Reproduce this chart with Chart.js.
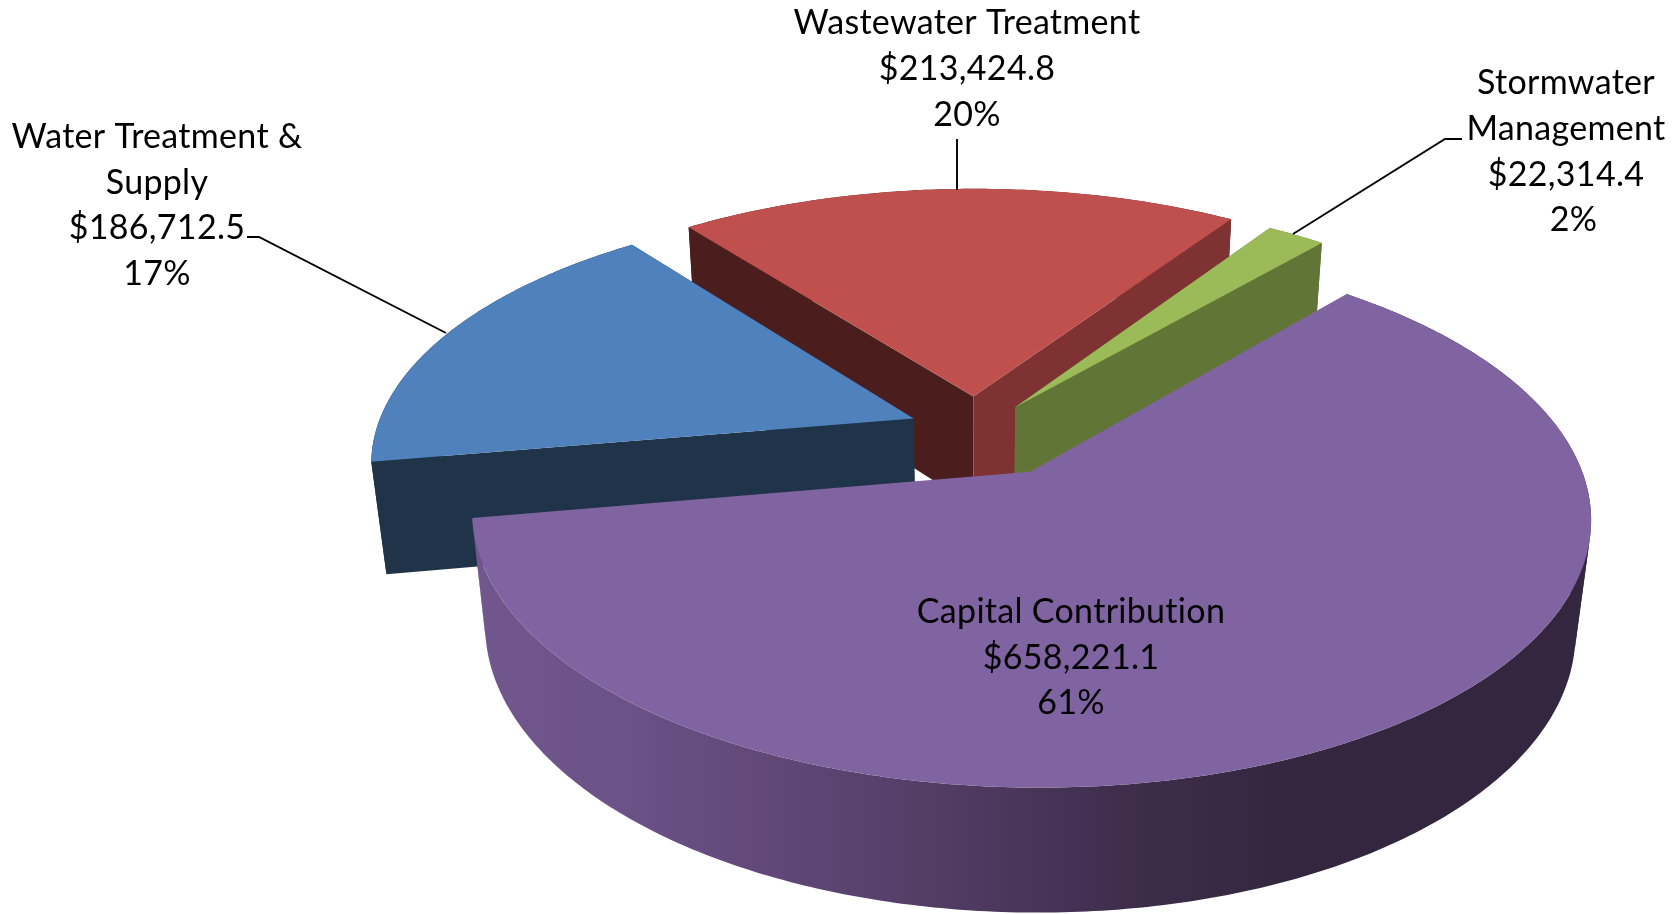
<!DOCTYPE html>
<html>
<head>
<meta charset="utf-8">
<style>html,body{margin:0;padding:0;background:#fff}canvas{display:block}</style>
<script src="https://cdn.jsdelivr.net/npm/chart.js@4"></script>
</head>
<body>
<canvas id="c" width="1679" height="914" style="width:1679px;height:914px"></canvas>
<script>
const categories = ["Water Treatment & Supply", "Wastewater Treatment", "Stormwater Management", "Capital Contribution"];
const categoryLines = [["Water Treatment &", "Supply"], ["Wastewater Treatment"], ["Stormwater", "Management"], ["Capital Contribution"]];
const amounts = [186712.5, 213424.8, 22314.4, 658221.1];
const topColors = ["#4f81bd", "#c0504d", "#9bbb59", "#8064a2"];

// Projection of the tilted pie (style, not data)
const VIEW = {cx: 982, cy: 433, a: 538.6, b: 251.6, p: 0.16, q: 0.025, h: 114};
const EXPLODE = [0.145, 0.155, 0.115, 0.17];
const NUDGE = [[0.007, -0.005], [-0.011, 0.006], [-0.007, -0.012], [0.004, 0.002]];
const DRAW_ORDER = [1, 2, 0, 3];
const FACES = [
  {start: "#1f3349", end: "#1f3349", wall: "#1f3349"},
  {start: "#4b1e1d", end: "#7e3231", wall: "#4b1e1d"},
  {start: "#617536", end: "#617536", wall: "#617536"},
  {start: null, end: null, wall: null}
];
const LABEL_POS = [
  {x: 157, y: 137}, {x: 967, y: 23.5}, {x: 1566, y: 83.5}, {x: 1071, y: 612}
];
const LAST_LINE_SHIFT = [0, 0, 7.5, 0];
const LEADERS = [
  [[247, 237], [259, 237], [446, 333]],
  [[957, 139], [957, 190]],
  [[1293, 234], [1445, 139], [1462, 139]]
];
const LINE_H = 45.6;

function project(u, v, z) {
  const D = 1 - VIEW.p * v + VIEW.q * z;
  return [VIEW.cx + VIEW.a * u / D, VIEW.cy + (VIEW.b * v + VIEW.h * z) / D];
}
function poly(ctx, pts) {
  ctx.beginPath();
  pts.forEach((p, i) => i ? ctx.lineTo(p[0], p[1]) : ctx.moveTo(p[0], p[1]));
  ctx.closePath();
}
function fillPoly(ctx, pts, color) {
  if (!color) return;
  poly(ctx, pts);
  ctx.fillStyle = color;
  ctx.fill("nonzero");
}
function quadSign(a, b, c, d) {
  const pts = [a, b, c, d];
  let s = 0;
  for (let i = 0; i < 4; i++) {
    const p = pts[i], q = pts[(i + 1) % 4];
    s += p[0] * q[1] - q[0] * p[1];
  }
  return s >= 0 ? 1 : -1;
}
// The wall is split where it turns away from the viewer, so its two parts keep their own winding.
function drawWall(ctx, rim, color) {
  const topPts = rim.map(r => project(r[0], r[1], 0));
  const lowPts = rim.map(r => project(r[0], r[1], 1));
  let from = 0;
  const flush = to => {
    fillPoly(ctx, topPts.slice(from, to + 1).concat(lowPts.slice(from, to + 1).reverse()), color);
  };
  let sign = quadSign(topPts[0], topPts[1], lowPts[1], lowPts[0]);
  for (let k = 1; k < rim.length - 1; k++) {
    const sg = quadSign(topPts[k], topPts[k + 1], lowPts[k + 1], lowPts[k]);
    if (sg !== sign) { flush(k); from = k; sign = sg; }
  }
  flush(rim.length - 1);
}

const pie3d = {
  id: "pie3d",
  beforeDatasetDraw(chart, args) {
    const ctx = chart.ctx;
    const arcs = args.meta.data;
    ctx.save();
    ctx.lineJoin = "round";
    DRAW_ORDER.forEach(i => {
      const {startAngle: s, endAngle: e} = arcs[i].getProps(["startAngle", "endAngle"], true);
      const mid = (s + e) / 2;
      const ox = EXPLODE[i] * Math.cos(mid) + NUDGE[i][0], oy = EXPLODE[i] * Math.sin(mid) + NUDGE[i][1];
      const n = Math.max(6, Math.ceil((e - s) / 0.012));
      const rim = [];
      for (let k = 0; k <= n; k++) {
        const t = s + (e - s) * k / n;
        rim.push([ox + Math.cos(t), oy + Math.sin(t)]);
      }
      let wall = FACES[i].wall;
      if (!wall) {
        wall = ctx.createLinearGradient(470, 0, 1300, 0);
        wall.addColorStop(0, "#71578d");
        wall.addColorStop(0.2, "#6a5186");
        wall.addColorStop(0.47, "#5a426e");
        wall.addColorStop(0.82, "#3b2c49");
        wall.addColorStop(1, "#35263f");
      }
      drawWall(ctx, rim, wall);
      // side faces
      const first = rim[0], last = rim[n];
      fillPoly(ctx, [project(ox, oy, 0), project(first[0], first[1], 0), project(first[0], first[1], 1), project(ox, oy, 1)], FACES[i].start);
      fillPoly(ctx, [project(ox, oy, 0), project(last[0], last[1], 0), project(last[0], last[1], 1), project(ox, oy, 1)], FACES[i].end);
      // top face
      const top = [project(ox, oy, 0)].concat(rim.map(r => project(r[0], r[1], 0)));
      poly(ctx, top);
      ctx.fillStyle = arcs[i].options.backgroundColor;
      ctx.fill();
    });
    ctx.restore();
    return false;
  },
  afterDatasetsDraw(chart) {
    const ctx = chart.ctx;
    const total = amounts.reduce((a, b) => a + b, 0);
    ctx.save();
    ctx.strokeStyle = "#000";
    ctx.lineWidth = 1.9;
    LEADERS.forEach(l => {
      ctx.beginPath();
      l.forEach((p, i) => i ? ctx.lineTo(p[0], p[1]) : ctx.moveTo(p[0], p[1]));
      ctx.stroke();
    });
    ctx.fillStyle = "#000";
    ctx.textAlign = "center";
    ctx.textBaseline = "middle";
    ctx.font = '34px Lato';
    ctx.letterSpacing = "0.3px";
    categoryLines.forEach((lines, i) => {
      const text = lines.concat([
        "$" + amounts[i].toLocaleString("en-US", {minimumFractionDigits: 1, maximumFractionDigits: 1}),
        Math.round(amounts[i] / total * 100) + "%"
      ]);
      text.forEach((t, k) => {
        const dx = k === text.length - 1 ? LAST_LINE_SHIFT[i] : 0;
        ctx.fillText(t, LABEL_POS[i].x + dx, LABEL_POS[i].y + k * LINE_H);
      });
    });
    ctx.restore();
  }
};

new Chart(document.getElementById("c"), {
  type: "pie",
  data: {labels: categories, datasets: [{data: amounts, backgroundColor: topColors, borderWidth: 0}]},
  options: {
    responsive: false,
    animation: false,
    rotation: 260.2,
    layout: {padding: 0},
    plugins: {legend: {display: false}, tooltip: {enabled: false}, title: {display: false}}
  },
  plugins: [pie3d]
});
</script>
</body>
</html>
